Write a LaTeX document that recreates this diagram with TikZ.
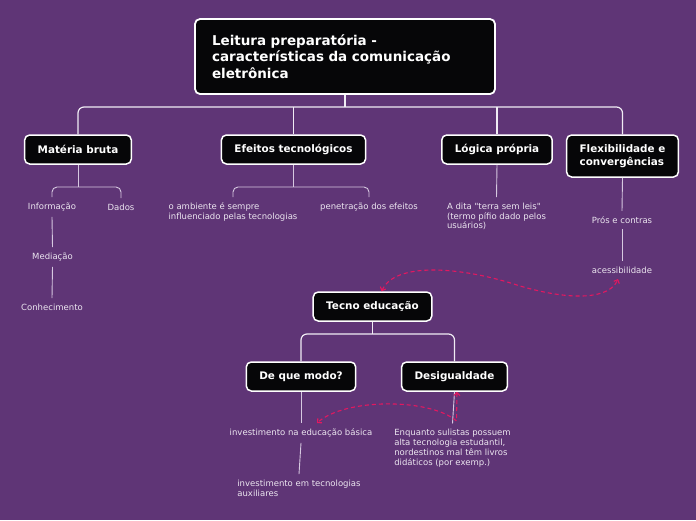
\documentclass[tikz,border=0pt]{standalone}
\usepackage{fontspec}
\setmainfont{DejaVu Sans}[Ligatures=TeXOff]
\usetikzlibrary{arrows.meta}
\definecolor{bgc}{RGB}{95,53,118}
\definecolor{boxc}{RGB}{6,6,8}
\definecolor{linec}{RGB}{240,236,244}
\definecolor{sublinec}{RGB}{214,200,224}
\definecolor{txtc}{RGB}{236,230,240}
\definecolor{pinkc}{RGB}{226,24,96}
\begin{document}
\begin{tikzpicture}[x=1pt,y=-1pt,
 box/.style={draw=white, line width=1.5pt, fill=boxc, rounded corners=5pt, text=white,
   font=\fontsize{10.4}{13}\selectfont\bfseries, inner xsep=13pt, minimum height=29pt, align=center},
 lbl/.style={text=txtc, font=\fontsize{8.5}{9.8}\selectfont, align=left, inner xsep=2pt, inner ysep=5.5pt},
 conn/.style={draw=linec, line width=1.2pt},
 subconn/.style={draw=sublinec, line width=0.9pt},
 pdash/.style={draw=pinkc, line width=1.1pt, dash pattern=on 4pt off 3pt,
   {Straight Barb[length=3pt,width=6pt]}-{Straight Barb[length=3pt,width=6pt]}}]
\fill[bgc] (0,0) rectangle (696,520);
\useasboundingbox (0,0) rectangle (696,520);

\node[box, font=\fontsize{13.5}{16.5}\selectfont\bfseries, align=left, text width=266pt,
  inner xsep=17pt, minimum height=75pt, line width=1.8pt] (root) at (345,56.5)
  {Leitura preparatória -\\características da comunicação\\eletrônica};

\node[box] (mb) at (78,149.5) {Matéria bruta};
\node[box] (ef) at (293.5,149.5) {Efeitos tecnológicos};
\node[box] (lg) at (497,149.5) {Lógica própria};
\node[box, minimum height=42pt, align=left] (fx) at (622.5,156) {Flexibilidade e\\convergências};
\node[box] (te) at (372.5,306.5) {Tecno educação};
\node[box] (dm) at (301,376.5) {De que modo?};
\node[box] (dg) at (454.5,376.5) {Desigualdade};

\node[lbl] (inf) at (52,207) {Informação};
\node[lbl] (dad) at (121,207) {Dados};
\node[lbl] (med) at (52.5,257) {Mediação};
\node[lbl] (con) at (52,307) {Conhecimento};
\node[lbl] (amb) at (233,212) {o ambiente é sempre\\influenciado pelas tecnologias};
\node[lbl] (pen) at (369,207) {penetração dos efeitos};
\node[lbl] (dit) at (496.5,216.5) {A dita "terra sem leis"\\(termo pífio dado pelos\\usuários)};
\node[lbl] (pro) at (622,220) {Prós e contras};
\node[lbl] (ace) at (622,270) {acessibilidade};
\node[lbl] (ieb) at (301,433) {investimento na educação básica};
\node[lbl] (iet) at (299,488) {investimento em tecnologias\\auxiliares};
\node[lbl] (enq) at (452.5,448) {Enquanto sulistas possuem\\alta tecnologia estudantil,\\nordestinos mal têm livros\\didáticos (por exemp.)};

% root connectors
\draw[conn] (root.south) -- (root.south |- 0,107);
\draw[conn, rounded corners=6pt] (mb.north) |- (fx.north |- 0,107) -- (fx.north);
\draw[conn] (ef.north) -- (ef.north |- 0,107);
\draw[conn] (lg.north) -- (lg.north |- 0,107);

% Materia bruta
\draw[subconn] (mb.south) -- (mb.south |- 0,187);
\draw[subconn, rounded corners=5pt] (inf.north) |- (dad.north |- 0,187) -- (dad.north);
\draw[subconn] (inf.south) -- (med.north);
\draw[subconn] (med.south) -- (con.north);

% Efeitos
\draw[subconn] (ef.south) -- (ef.south |- 0,187);
\draw[subconn, rounded corners=5pt] (amb.north) |- (pen.north |- 0,187) -- (pen.north);

% Logica
\draw[subconn] (lg.south) -- (dit.north);

% Flex
\draw[subconn] (fx.south) -- (pro.north);
\draw[subconn] (pro.south) -- (ace.north);

% Tecno
\draw[conn] (te.south) -- (te.south |- 0,334);
\draw[conn, rounded corners=6pt] (dm.north) |- (dg.north |- 0,334) -- (dg.north);
\draw[subconn] (dm.south) -- (ieb.north);
\draw[subconn] (ieb.south) -- (iet.north);
\draw[subconn] (dg.south) -- (enq.north);

% pink dashed relations
\draw[pdash] ([xshift=9pt]te.north) .. controls (395,262) and (460,266) .. (520,286)
  .. controls (575,302) and (610,298) .. ([xshift=-4pt]ace.south);
\draw[pdash] ([xshift=2.5pt]dg.south) -- (456.5,421) .. controls (430,398) and (345,398) .. ([xshift=16pt]ieb.north);
\end{tikzpicture}
\end{document}
